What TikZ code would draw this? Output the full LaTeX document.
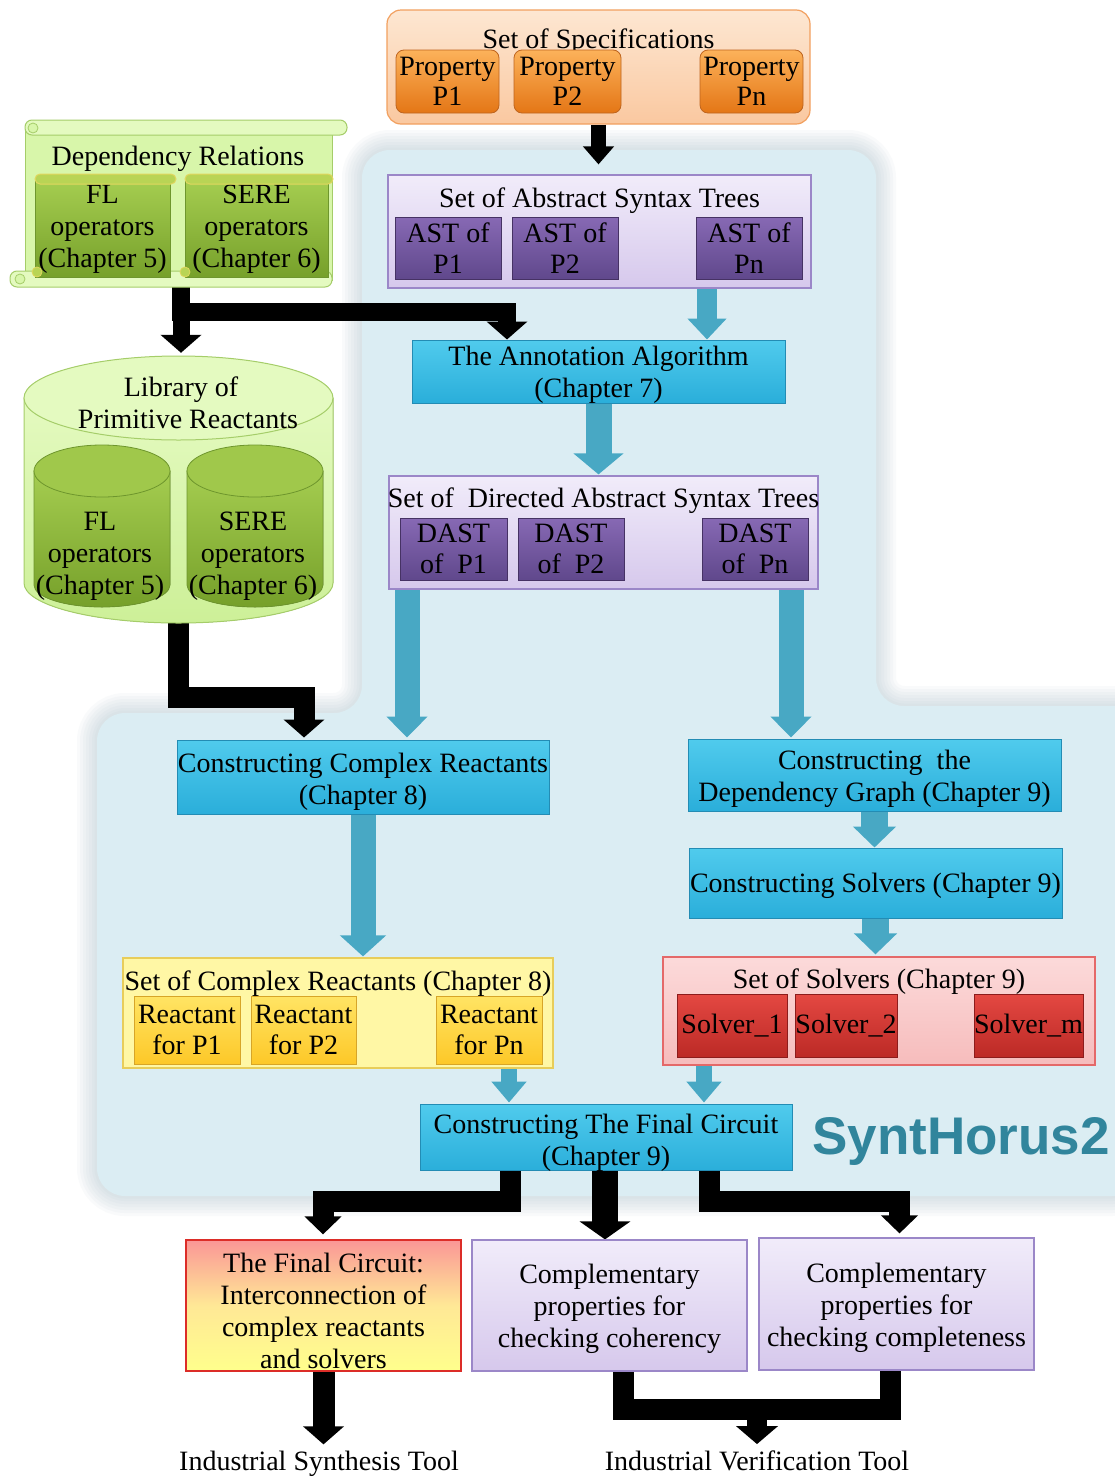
\documentclass[tikz,border=0pt]{standalone}
\usepackage{fontspec}
\setmainfont{Liberation Serif}
\newfontfamily\synfont{Liberation Sans}
\usetikzlibrary{arrows.meta,calc}
\pgfdeclarelayer{bgl}
\pgfdeclarelayer{arrl}
\pgfsetlayers{bgl,arrl,main}
\newcommand\lift[1]{\rule{0pt}{#1pt}}

\definecolor{bgblue}{RGB}{219,237,243}
\definecolor{bgedge}{RGB}{170,192,202}
\definecolor{tealarrow}{RGB}{72,168,196}
\definecolor{cyantop}{RGB}{80,203,237}
\definecolor{cyanbot}{RGB}{42,174,218}
\definecolor{cyanedge}{RGB}{35,140,180}
\definecolor{specA}{RGB}{253,231,210}
\definecolor{specB}{RGB}{250,200,160}
\definecolor{specedge}{RGB}{242,160,95}
\definecolor{propA}{RGB}{252,178,90}
\definecolor{propB}{RGB}{228,118,22}
\definecolor{propedge}{RGB}{190,100,30}
\definecolor{lavA}{RGB}{241,236,250}
\definecolor{lavB}{RGB}{214,200,236}
\definecolor{lavedge}{RGB}{155,135,200}
\definecolor{purA}{RGB}{135,105,180}
\definecolor{purB}{RGB}{96,72,140}
\definecolor{puredge}{RGB}{70,50,100}
\definecolor{lgreen}{RGB}{216,246,170}
\definecolor{lgreenA}{RGB}{228,250,192}
\definecolor{lgreenB}{RGB}{205,240,152}
\definecolor{lgreenedge}{RGB}{165,205,105}
\definecolor{gA}{RGB}{165,205,80}
\definecolor{gB}{RGB}{118,160,42}
\definecolor{gtop}{RGB}{160,200,75}
\definecolor{gedge}{RGB}{110,150,45}
\definecolor{groll}{RGB}{185,212,85}
\definecolor{grolledge}{RGB}{225,215,95}
\definecolor{yelset}{RGB}{255,247,165}
\definecolor{yeledge}{RGB}{232,205,90}
\definecolor{reA}{RGB}{255,228,100}
\definecolor{reB}{RGB}{253,200,40}
\definecolor{reedge}{RGB}{215,165,40}
\definecolor{pinkA}{RGB}{252,218,218}
\definecolor{pinkB}{RGB}{246,188,188}
\definecolor{pinkedge}{RGB}{228,105,105}
\definecolor{solA}{RGB}{228,72,66}
\definecolor{solB}{RGB}{188,42,38}
\definecolor{soledge}{RGB}{140,28,28}
\definecolor{fcA}{RGB}{250,150,150}
\definecolor{fcM}{RGB}{255,232,150}
\definecolor{fcB}{RGB}{255,255,140}
\definecolor{fcedge}{RGB}{220,45,40}
\definecolor{synteal}{RGB}{49,133,156}

\tikzset{
  wh/.style 2 args={minimum width=#1, minimum height=#2},
  txt/.style={font=\fontsize{28}{32}\selectfont, align=center, inner sep=0pt},
  specbox/.style={draw=specedge, line width=1.2pt, rounded corners=14pt, top color=specA, bottom color=specB},
  propbox/.style={txt, font=\fontsize{28}{29.5}\selectfont, draw=propedge, line width=0.8pt, rounded corners=8pt, top color=propA, bottom color=propB},
  lavbox/.style={draw=lavedge, line width=1.2pt, top color=lavA, bottom color=lavB},
  purbox/.style={txt, font=\fontsize{28}{31}\selectfont, draw=puredge, line width=0.8pt, top color=purA, bottom color=purB},
  cyanbox/.style={txt, draw=cyanedge, line width=1pt, top color=cyantop, bottom color=cyanbot},
  scrollbody/.style={draw=lgreenedge, line width=1pt, fill=lgreen},
  scrollroll/.style={draw=lgreenedge, line width=1pt, fill=lgreenA, rounded corners=7pt},
  gbox/.style={txt, draw=gedge, line width=0.8pt, top color=gA, bottom color=gB},
  grollst/.style={draw=grolledge, line width=1pt, fill=groll, rounded corners=5pt},
  libbody/.style={draw=lgreenedge, line width=1pt, top color=lgreenA, bottom color=lgreenB},
  libtop/.style={draw=lgreenedge, line width=1pt, fill=lgreenA},
  cylbody/.style={draw=gedge, line width=0.8pt, top color=gA, bottom color=gB},
  cyltop/.style={draw=gedge, line width=0.8pt, fill=gtop},
  yelbox/.style={draw=yeledge, line width=1.2pt, fill=yelset},
  rebox/.style={txt, font=\fontsize{28}{31}\selectfont, draw=reedge, line width=0.8pt, top color=reA, bottom color=reB},
  pinkbox/.style={draw=pinkedge, line width=1.2pt, top color=pinkA, bottom color=pinkB},
  solbox/.style={txt, draw=soledge, line width=0.8pt, top color=solA, bottom color=solB},
  fcbox/.style={draw=fcedge, line width=1.2pt, top color=fcA, bottom color=fcB, middle color=fcM},
  lavbox2/.style={txt, draw=lavedge, line width=1.2pt, top color=lavA, bottom color=lavB},
  blk/.style 2 args={draw=black, line width=#1, line join=miter, miter limit=10, -{Triangle[width=#2, length=18pt]}},
  blkline/.style={draw=black, line width=#1, line join=miter, miter limit=10},
  tl/.style 2 args={draw=tealarrow, line width=#1, -{Triangle[width=#2, length=21pt]}},
  halo/.style={draw=bgedge, line width=#1, opacity=0.07, rounded corners=28pt},
}

\begin{document}
\begin{tikzpicture}[x=1pt,y=-1pt]
\useasboundingbox (0,0) rectangle (1115,1478);

% ---------- background region ----------
\begin{pgfonlayer}{bgl}
\fill[white] (0,0) rectangle (1115,1478);
\foreach \w in {40,34,28,22,16,10,5}{
\draw[halo=\w pt]
  (362,150) -- (876,150) -- (876,706) -- (1140,706) -- (1140,1196) -- (97,1196) -- (97,713) -- (362,713) -- cycle;
}
\fill[bgblue, rounded corners=28pt]
  (362,150) -- (876,150) -- (876,706) -- (1140,706) -- (1140,1196) -- (97,1196) -- (97,713) -- (362,713) -- cycle;
\end{pgfonlayer}

% ---------- specifications ----------
\node[specbox, wh={423}{114}] (spec) at (598.5,67) {};
\node[txt, anchor=base] (spect) at (598.5,48) {Set of Specifications};
\node[propbox, wh={103}{63}] (pp1) at (447.5,81.5) {Property\\P1};
\node[propbox, wh={107}{63}] (pp2) at (567.5,81.5) {Property\\P2};
\node[propbox, wh={103}{63}] (ppn) at (751.5,81.5) {Property\\Pn};

% ---------- AST ----------
\node[lavbox, wh={423}{113}] (astset) at (599.5,231.5) {};
\node[txt, anchor=base] (astt) at (599.5,207) {Set of Abstract Syntax Trees};
\node[purbox, wh={106}{62}] (ast1) at (448,248) {AST of\\P1};
\node[purbox, wh={106}{62}] (ast2) at (565,248) {AST of\\P2};
\node[purbox, wh={106}{62}] (astn) at (749,248) {AST of\\Pn};

% ---------- dependency relations scroll ----------
\node[scrollbody, wh={307}{152}] (dep) at (178.5,204) {};
\filldraw[scrollroll] (25,120) rectangle (347,135);
\filldraw[scrollroll] (10,271) rectangle (332,287);
\filldraw[draw=lgreenedge, fill=lgreen, line width=0.8pt] (33,128) circle[radius=5];
\filldraw[draw=lgreenedge, fill=lgreen, line width=0.8pt] (20,279) circle[radius=5];
\node[txt, anchor=base] (dept) at (178,165) {Dependency Relations};
\node[gbox, wh={135}{97}] (dfl) at (102.5,229) {FL\\operators\\(Chapter 5)};
\filldraw[grollst] (35,174) rectangle (176,184);
\node[gbox, wh={143}{97}] (dsere) at (256.5,229) {SERE\\operators\\(Chapter 6)};
\filldraw[grollst] (185,174) rectangle (333,184);
\filldraw[draw=grolledge, fill=groll, line width=0.8pt] (37,272) circle[radius=5];
\filldraw[draw=grolledge, fill=groll, line width=0.8pt] (185,272) circle[radius=5];

% ---------- library cylinder ----------
\filldraw[libbody] (24,398) -- (24,583) arc[start angle=180, end angle=0, x radius=154.5, y radius=40] -- (333,398) -- cycle;
\filldraw[libtop] (178.5,398) ellipse[x radius=154.5, y radius=42];
\node[wh={309}{267}, inner sep=0pt] (lib) at (178.5,489.5) {};
\node[txt] (libt) at (181,403) {Library of\\~~Primitive Reactants};
\filldraw[cylbody] (34,471) -- (34,585) arc[start angle=180, end angle=0, x radius=68, y radius=22] -- (170,471) -- cycle;
\filldraw[cyltop] (102,471) ellipse[x radius=68, y radius=26];
\filldraw[cylbody] (187,471) -- (187,585) arc[start angle=180, end angle=0, x radius=68, y radius=22] -- (323,471) -- cycle;
\filldraw[cyltop] (255,471) ellipse[x radius=68, y radius=26];
\node[txt] (lfl) at (100,556.5) {FL\\operators\\(Chapter 5)};
\node[txt] (lsere) at (253,556.5) {SERE\\operators\\(Chapter 6)};

% ---------- annotation ----------
\node[cyanbox, wh={373}{63}] (ann) at (598.5,371.5) {\lift{25}The Annotation Algorithm\\(Chapter 7)};

% ---------- DAST ----------
\node[lavbox, wh={429}{113}] (dast) at (603.5,532.5) {};
\node[txt, anchor=base] (dastt) at (603.5,507) {Set of~ Directed Abstract Syntax Trees};
\node[purbox, wh={107}{62}] (d1) at (453.5,549) {DAST\\of~ P1};
\node[purbox, wh={106}{62}] (d2) at (571,549) {DAST\\of~ P2};
\node[purbox, wh={106}{62}] (dn) at (755,549) {DAST\\of~ Pn};

% ---------- construction steps ----------
\node[cyanbox, wh={372}{74}] (cr) at (363,777) {\lift{28}Constructing Complex Reactants\\(Chapter 8)};
\node[cyanbox, wh={373}{72}] (dg) at (874.5,775) {\lift{28}Constructing~ the\\Dependency Graph (Chapter 9)};
\node[cyanbox, wh={373}{70}] (solv) at (875.5,883) {\lift{25}Constructing Solvers (Chapter 9)};

% ---------- complex reactants ----------
\node[yelbox, wh={430}{110}] (setcr) at (338,1013) {};
\node[txt, anchor=base] (setcrt) at (338,990) {Set of Complex Reactants (Chapter 8)};
\node[rebox, wh={106}{68}] (r1) at (187,1030) {Reactant\\for P1};
\node[rebox, wh={105}{68}] (r2) at (303.5,1030) {Reactant\\for P2};
\node[rebox, wh={106}{68}] (rn) at (489,1030) {Reactant\\for Pn};

% ---------- solvers ----------
\node[pinkbox, wh={432}{108}] (setsol) at (879,1011) {};
\node[txt, anchor=base] (setsolt) at (879,988) {Set of Solvers (Chapter 9)};
\node[solbox, wh={110}{63}] (s1) at (732,1025.5) {Solver\_1};
\node[solbox, wh={102}{63}] (s2) at (846,1025.5) {Solver\_2};
\node[solbox, wh={107}{63}] (sm) at (1028.5,1025.5) {Solver\_m};

% ---------- final circuit ----------
\node[cyanbox, wh={372}{63}] (final) at (606,1137.5) {\lift{29}Constructing The Final Circuit\\(Chapter 9)};
\node[font=\synfont\bfseries\fontsize{53}{60}\selectfont, text=synteal, anchor=base, inner sep=0pt] (syn2) at (961,1154) {SyntHorus2};

% ---------- outputs ----------
\node[fcbox, wh={275}{131}] (fcb) at (323.5,1305.5) {};
\node[txt] (fct) at (323.5,1311) {The Final Circuit:\\Interconnection of\\complex reactants\\and solvers};
\node[lavbox2, wh={275}{131}] (coh) at (609.5,1305.5) {\lift{26}Complementary\\properties for\\checking coherency};
\node[lavbox2, wh={275}{132}] (comp) at (896.5,1304) {\lift{28}Complementary\\properties for\\checking completeness};
\node[txt, anchor=base] (syn) at (319,1470) {Industrial Synthesis Tool};
\node[txt, anchor=base] (ver) at (757,1470) {Industrial Verification Tool};

% ---------- reference x positions ----------
\coordinate (xdep) at (181,0);
\coordinate (xann) at (507,0);
\coordinate (xast) at (707,0);
\coordinate (xlib) at (178,0);
\coordinate (xcr) at (304,0);
\coordinate (xd1) at (407,0);
\coordinate (xd2) at (791,0);
\coordinate (xs1) at (509,0);
\coordinate (xs2) at (704,0);
\coordinate (xf1) at (510.5,0);
\coordinate (xf2) at (323,0);
\coordinate (xc) at (605,0);
\coordinate (xf3) at (709.5,0);
\coordinate (xf4) at (899.5,0);
\coordinate (xv1) at (623,0);
\coordinate (xv2) at (890.5,0);
\coordinate (vbar) at (757,1409);

% ---------- connectors ----------
\begin{pgfonlayer}{arrl}
\draw[blk={15pt}{30pt}, shorten >=10pt] (spec.south) -- (spec.south |- astset.north);
\draw[blk={17pt}{40pt}, shorten >=3pt] (dep.south -| xdep) -- (lib.north -| xdep);
\draw[blk={18pt}{40pt}] (dep.south -| xdep) -- ++(0,31) -| (ann.north -| xann);
\draw[tl={20pt}{38pt}] (astset.south -| xast) -- (ann.north -| xast);
\draw[tl={26pt}{49pt}, shorten >=1pt] (ann.south) -- (ann.south |- dast.north);
\draw[blk={21pt}{40pt}, shorten >=2pt] (lib.south -| xlib) -- ++(0,74.5) -| (cr.north -| xcr);
\draw[tl={25pt}{40pt}, shorten >=2pt] (dast.south -| xd1) -- (cr.north -| xd1);
\draw[tl={25pt}{40pt}, shorten >=1pt] (dast.south -| xd2) -- (dg.north -| xd2);
\draw[tl={25pt}{45pt}, shorten >=1pt] (cr.south) -- (cr.south |- setcr.north);
\draw[tl={27pt}{42pt}] (dg.south) -- (dg.south |- solv.north);
\draw[tl={27pt}{42pt}, shorten >=2pt] (solv.south) -- (solv.south |- setsol.north);
\draw[tl={16pt}{34pt}, shorten >=1pt] (setcr.south -| xs1) -- (final.north -| xs1);
\draw[tl={16pt}{34pt}, shorten >=1pt] (setsol.south -| xs2) -- (final.north -| xs2);
\draw[blk={21pt}{36pt}, shorten >=5pt] (final.south -| xf1) -- ++(0,30) -| (fcb.north -| xf2);
\draw[blk={26pt}{50pt}] (final.south -| xc) -- (coh.north -| xc);
\draw[blk={21pt}{36pt}, shorten >=4pt] (final.south -| xf3) -- ++(0,30) -| (comp.north -| xf4);
\draw[blk={22pt}{40pt}, shorten >=6pt] (fcb.south) -- (fcb.south |- syn.north);
\draw[blkline=21pt] (coh.south -| xv1) -- ++(0,38) -| (comp.south -| xv2);
\draw[blk={20pt}{41pt}, shorten >=6pt] (vbar) -- (vbar |- ver.north);
\end{pgfonlayer}
\end{tikzpicture}
\end{document}
